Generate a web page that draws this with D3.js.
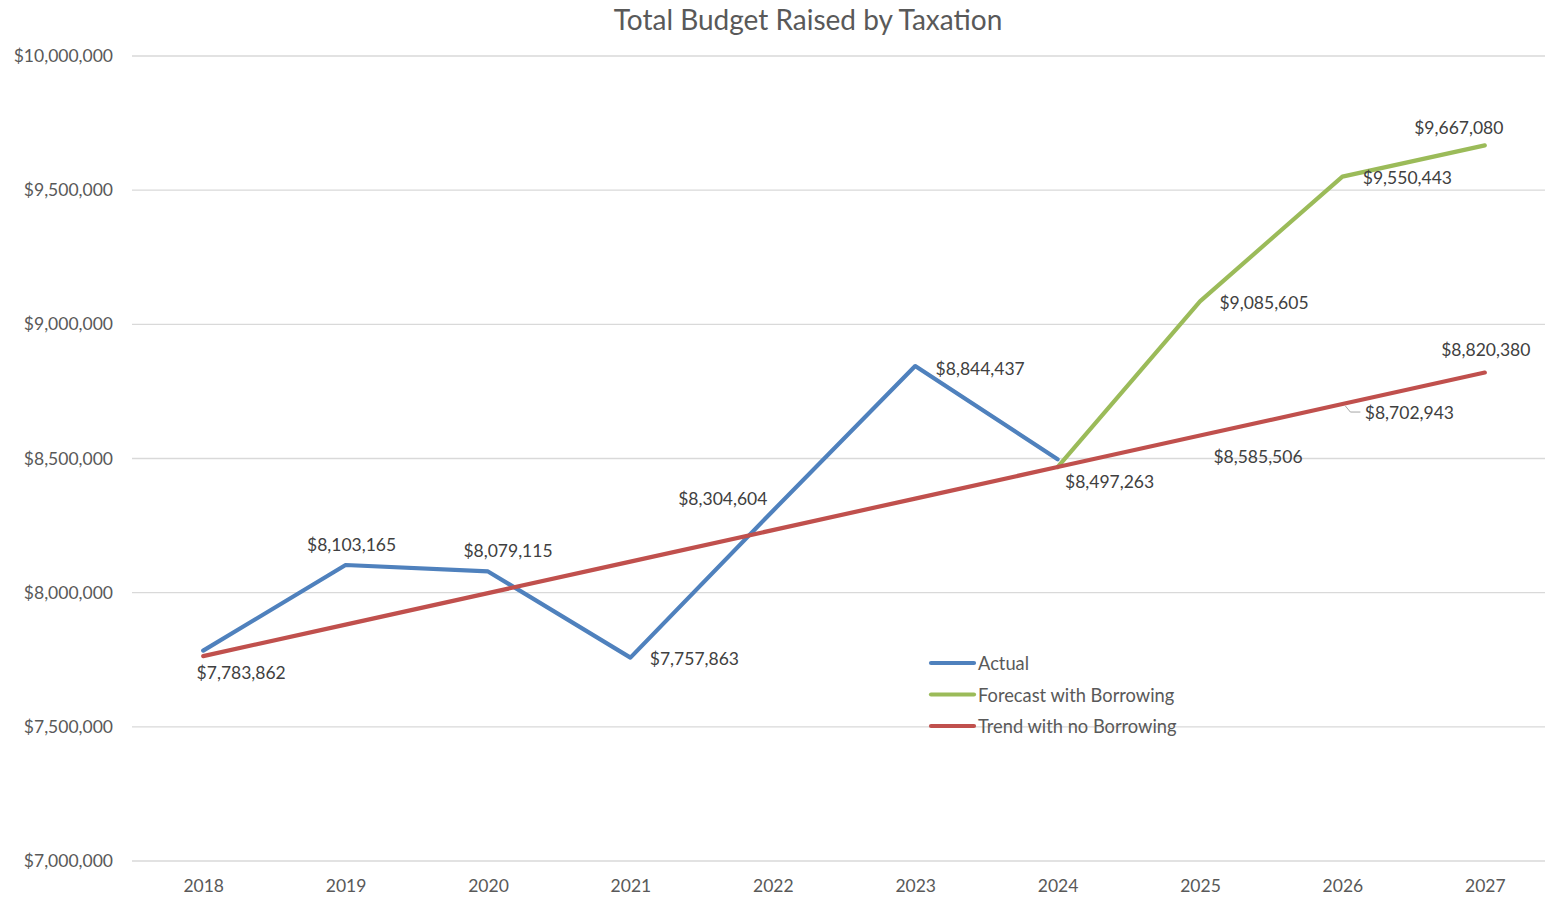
<!DOCTYPE html>
<html>
<head>
<meta charset="utf-8">
<script src="https://cdn.jsdelivr.net/npm/d3@7"></script>
<style>
  html, body { margin: 0; padding: 0; background: #fff; }
  svg { display: block; font-family: Lato, "Open Sans", sans-serif; }
</style>
</head>
<body>
<svg id="chart" width="1545" height="899"></svg>
<script>
const years = ["2018","2019","2020","2021","2022","2023","2024","2025","2026","2027"];
const actual = [7783862, 8103165, 8079115, 7757863, 8304604, 8844437, 8497263, null, null, null];
const forecast = [null, null, null, null, null, null, 8468069, 9085605, 9550443, 9667080];
const trend = [7763447, 7880884, 7998321, 8115758, 8233195, 8350632, 8468069, 8585506, 8702943, 8820380];
const yTicks = [7000000, 7500000, 8000000, 8500000, 9000000, 9500000, 10000000];
const seriesNames = ["Actual", "Forecast with Borrowing", "Trend with no Borrowing"];
const seriesColors = ["#4F81BD", "#9BBB59", "#C0504D"];

// label placement offsets (dx, dy from point to label centre)
const actualLabelOff = [[38,22],[6,-20],[20,-21],[64,1],[-50,-12],[65,2],[52,22],null,null,null];
const forecastLabelOff = [null,null,null,null,null,null,null,[64,1],[65,1],[-26,-18]];
const trendLabelShow = [false,false,false,false,false,false,false,true,true,true];
const trendLabelOff = [null,null,null,null,null,null,null,[58,21],[67,8],[1,-23]];

const svg = d3.select("#chart");
const W = 1545, H = 899;
const margin = {left: 132, right: -11, top: 56, bottom: 38};
const labelSize = "17.5px";

const x = d3.scalePoint().domain(years).range([margin.left, W - margin.right]).padding(0.5);
const y = d3.scaleLinear().domain([7000000, 10000000]).range([H - margin.bottom, margin.top]);
const fmt = d3.format("$,.0f");

// title
svg.append("text")
  .attr("x", 808).attr("y", 30)
  .attr("text-anchor", "middle")
  .attr("fill", "#595959")
  .style("font-size", "28px")
  .text("Total Budget Raised by Taxation");

// grid lines
svg.append("g").selectAll("line").data(yTicks).join("line")
  .attr("x1", margin.left).attr("x2", W)
  .attr("y1", d => y(d)).attr("y2", d => y(d))
  .attr("stroke", "#d9d9d9").attr("stroke-width", 1.3);

// y axis labels
const yAxis = d3.axisLeft(y).tickValues(yTicks).tickFormat(fmt).tickSize(0).tickPadding(0);
const gy = svg.append("g").attr("transform", `translate(${margin.left - 19},0)`).call(yAxis);
gy.select(".domain").remove();
gy.selectAll("text").attr("fill", "#595959").style("font-size", labelSize).style("font-family", "Lato, 'Open Sans', sans-serif");

// x axis labels
const xAxis = d3.axisBottom(x).tickSize(0).tickPadding(0);
const gx = svg.append("g").attr("transform", `translate(0,${H - margin.bottom + 19})`).call(xAxis);
gx.select(".domain").remove();
gx.selectAll("text").attr("fill", "#595959").style("font-size", labelSize).style("font-family", "Lato, 'Open Sans', sans-serif");

const line = d3.line()
  .defined(d => d.v !== null)
  .x(d => x(d.year)).y(d => y(d.v));

const allSeries = [actual, forecast, trend];
allSeries.forEach((arr, i) => {
  const data = years.map((yr, j) => ({year: yr, v: arr[j]}));
  svg.append("path").datum(data)
    .attr("d", line)
    .attr("fill", "none")
    .attr("stroke", seriesColors[i])
    .attr("stroke-width", 4.2)
    .attr("stroke-linecap", "round")
    .attr("stroke-linejoin", "round");
});

// data labels
function addLabels(arr, offs, show) {
  years.forEach((yr, j) => {
    if (arr[j] === null || !offs[j]) return;
    if (show && !show[j]) return;
    svg.append("text")
      .attr("x", x(yr) + offs[j][0])
      .attr("y", y(arr[j]) + offs[j][1])
      .attr("text-anchor", "middle")
      .attr("dominant-baseline", "central")
      .attr("fill", "#404040")
      .style("font-size", labelSize)
      .text(fmt(arr[j]));
  });
}
addLabels(actual, actualLabelOff);
addLabels(forecast, forecastLabelOff);
addLabels(trend, trendLabelOff, trendLabelShow);

// leader line for 2026 trend label
{
  const px = x("2026"), py = y(trend[8]);
  svg.append("path")
    .attr("d", `M${px + 3},${py + 2} L${px + 8},${py + 8} L${px + 18},${py + 8}`)
    .attr("fill", "none").attr("stroke", "#a6a6a6").attr("stroke-width", 1);
}

// legend
const legend = svg.append("g").attr("transform", "translate(931,663)");
seriesNames.forEach((name, i) => {
  const g = legend.append("g").attr("transform", `translate(0,${i * 31.5})`);
  g.append("line").attr("x1", 0).attr("x2", 43).attr("y1", 0).attr("y2", 0)
    .attr("stroke", seriesColors[i]).attr("stroke-width", 4.2).attr("stroke-linecap", "round");
  g.append("text").attr("x", 47).attr("y", 0)
    .attr("dominant-baseline", "central")
    .attr("fill", "#595959").style("font-size", "18.3px").text(name);
});
</script>
</body>
</html>
